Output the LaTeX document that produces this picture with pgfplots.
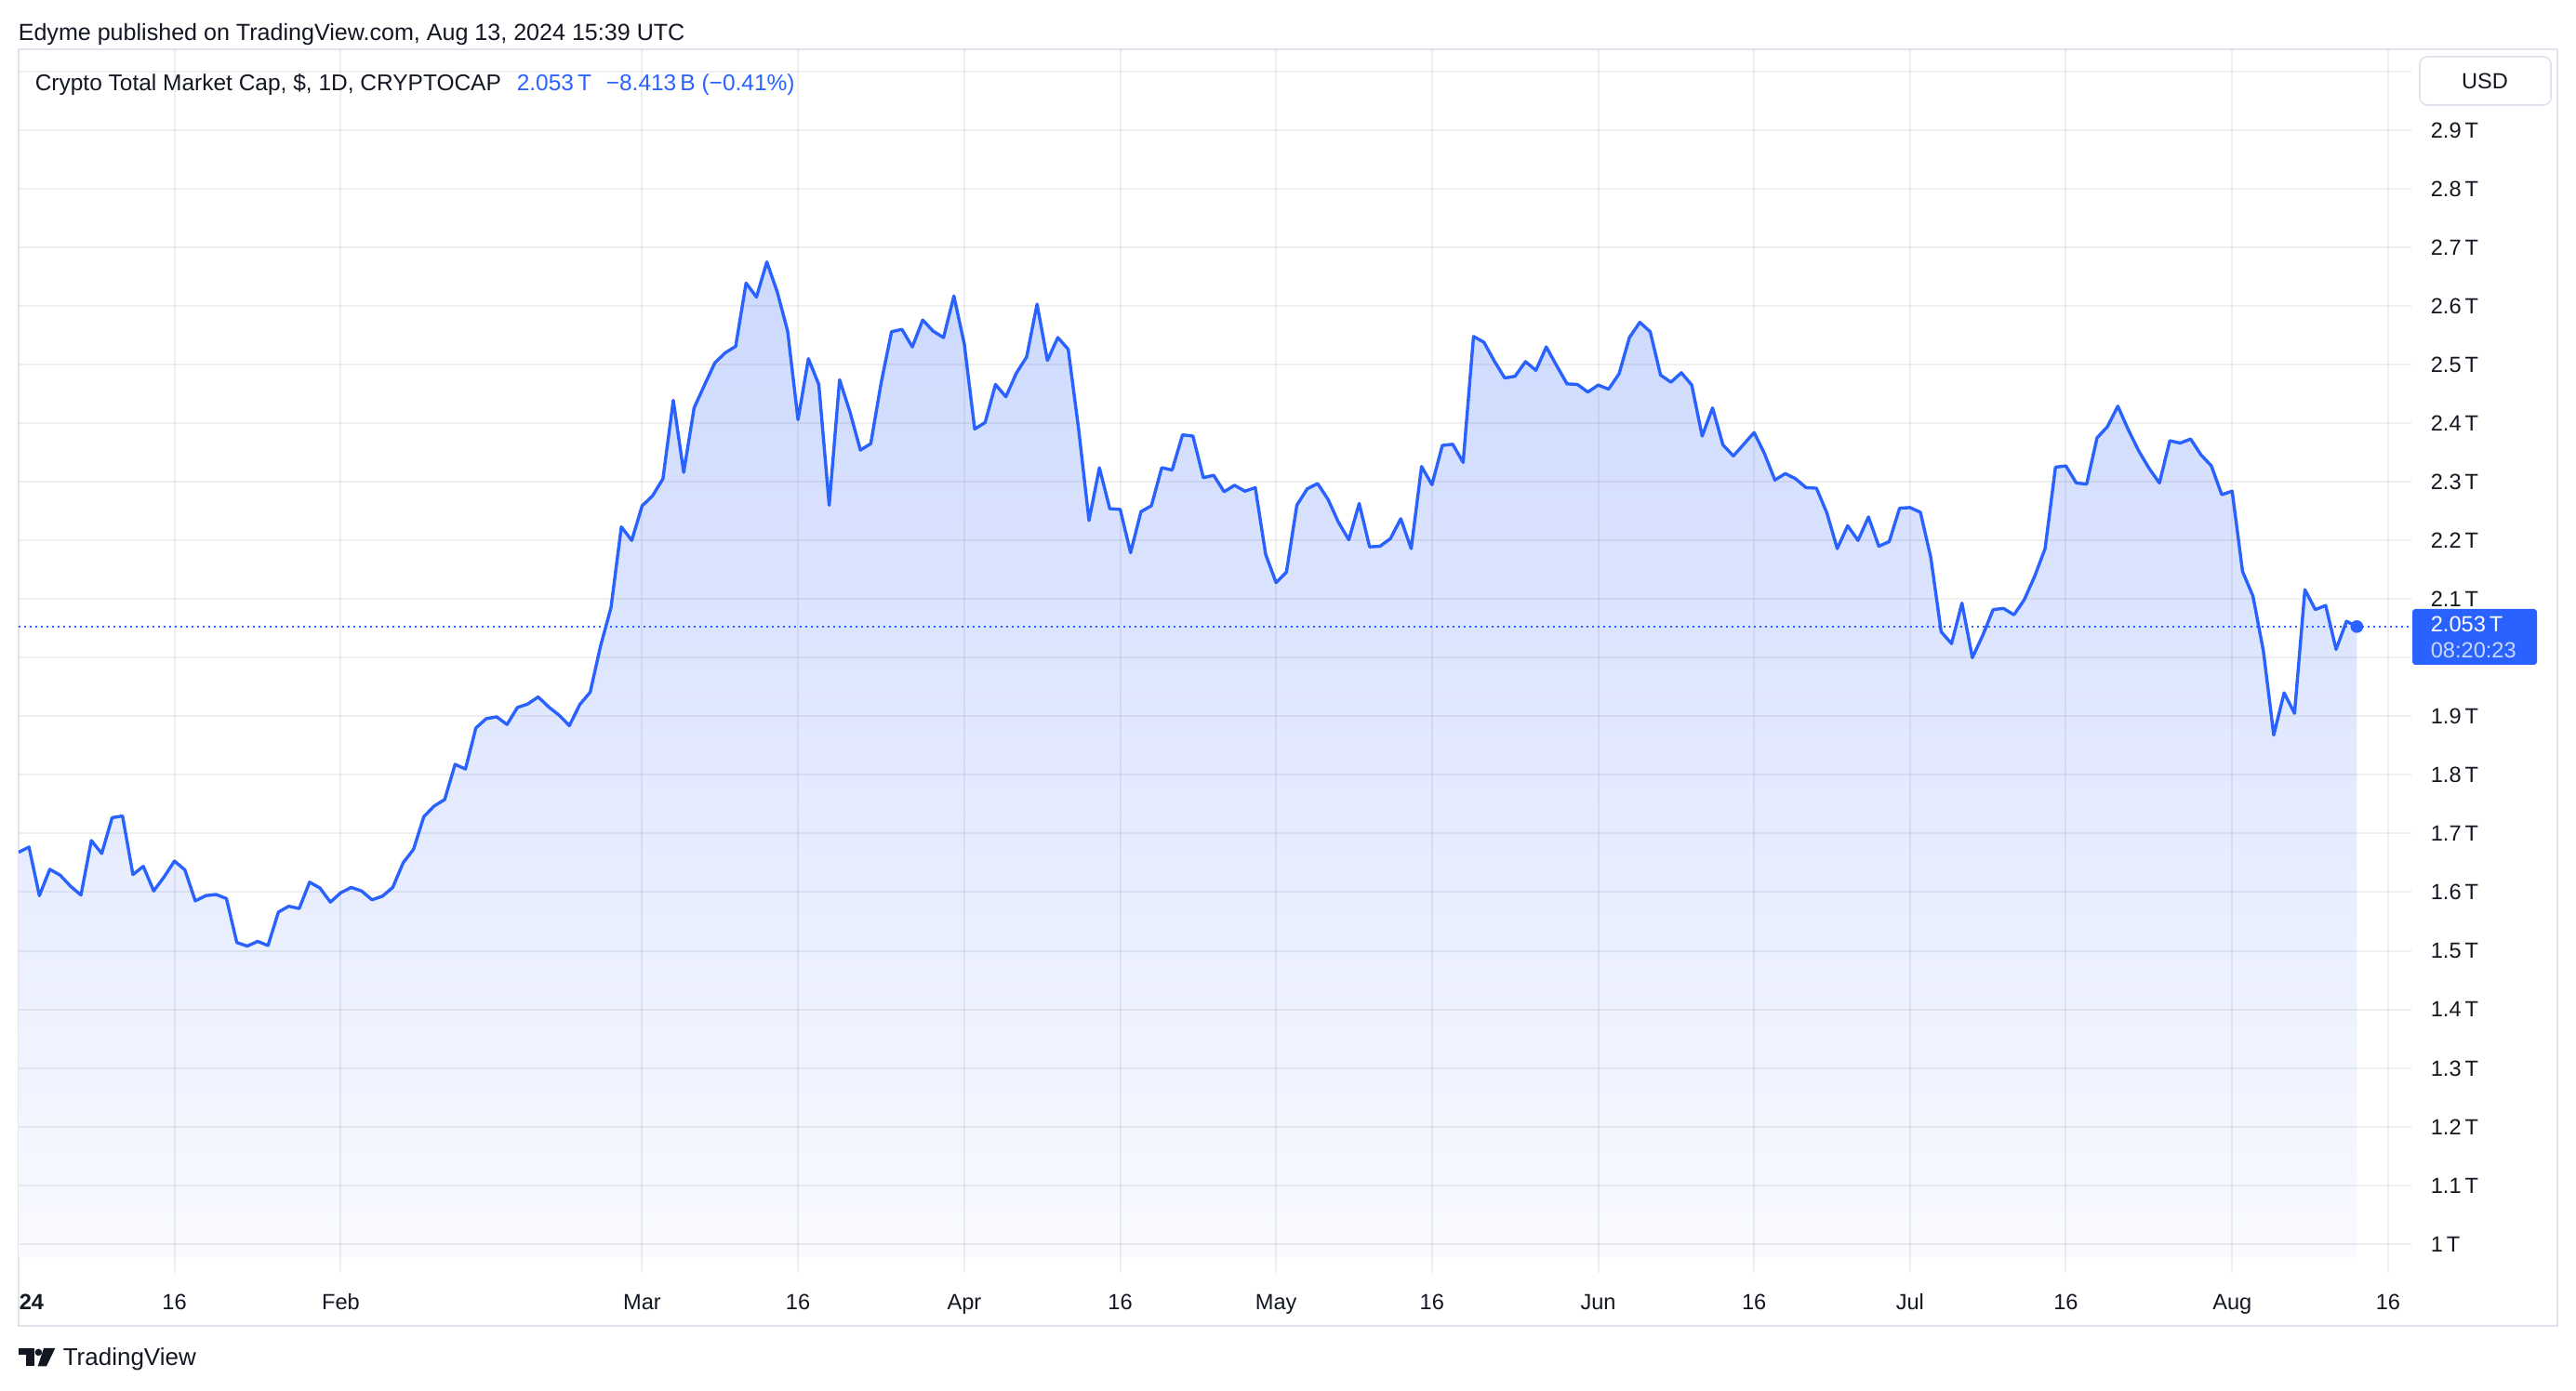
\documentclass[border=0pt]{standalone}
\usepackage{fontspec}
\setmainfont{Liberation Sans}
\usepackage{pgfplots}
\pgfplotsset{compat=1.18}
\usepackage{pgfplotstable}
\definecolor{tvblue}{RGB}{41,98,255}
\definecolor{tvtext}{RGB}{19,23,34}
\definecolor{tvframe}{RGB}{224,227,235}
\definecolor{tvgrid}{RGB}{42,46,57}
\definecolor{filltop}{RGB}{204,217,254}
\definecolor{fillbot}{RGB}{249,250,255}
\newcommand{\tlfont}{\fontsize{5.9pt}{7pt}\selectfont}

\pgfplotstableread{
d v
0 1.668
1 1.677
2 1.594
3 1.639
4 1.629
5 1.610
6 1.595
7 1.688
8 1.666
9 1.727
10 1.730
11 1.630
12 1.644
13 1.602
14 1.626
15 1.653
16 1.638
17 1.585
18 1.594
19 1.596
20 1.589
21 1.514
22 1.508
23 1.516
24 1.509
25 1.566
26 1.576
27 1.572
28 1.617
29 1.607
30 1.583
31 1.599
32 1.608
33 1.602
34 1.587
35 1.593
36 1.608
37 1.650
38 1.673
39 1.729
40 1.747
41 1.758
42 1.818
43 1.810
44 1.880
45 1.896
46 1.899
47 1.886
48 1.915
49 1.921
50 1.933
51 1.916
52 1.902
53 1.884
54 1.920
55 1.941
56 2.020
57 2.085
58 2.223
59 2.200
60 2.259
61 2.276
62 2.305
63 2.439
64 2.316
65 2.426
66 2.465
67 2.503
68 2.520
69 2.531
70 2.639
71 2.615
72 2.675
73 2.624
74 2.557
75 2.406
76 2.510
77 2.466
78 2.260
79 2.474
80 2.419
81 2.354
82 2.365
83 2.469
84 2.556
85 2.560
86 2.530
87 2.576
88 2.557
89 2.546
90 2.617
91 2.535
92 2.390
93 2.401
94 2.466
95 2.445
96 2.485
97 2.513
98 2.603
99 2.507
100 2.546
101 2.526
102 2.390
103 2.234
104 2.324
105 2.254
106 2.253
107 2.179
108 2.249
109 2.259
110 2.324
111 2.320
112 2.380
113 2.378
114 2.307
115 2.311
116 2.283
117 2.294
118 2.284
119 2.290
120 2.176
121 2.128
122 2.146
123 2.260
124 2.288
125 2.297
126 2.270
127 2.231
128 2.201
129 2.263
130 2.189
131 2.190
132 2.203
133 2.237
134 2.186
135 2.326
136 2.295
137 2.362
138 2.364
139 2.333
140 2.548
141 2.538
142 2.506
143 2.477
144 2.480
145 2.505
146 2.490
147 2.530
148 2.498
149 2.467
150 2.466
151 2.453
152 2.465
153 2.458
154 2.484
155 2.546
156 2.572
157 2.556
158 2.482
159 2.470
160 2.486
161 2.465
162 2.378
163 2.426
164 2.363
165 2.344
166 2.364
167 2.384
168 2.348
169 2.303
170 2.314
171 2.305
172 2.290
173 2.289
174 2.247
175 2.186
176 2.225
177 2.200
178 2.240
179 2.190
180 2.198
181 2.255
182 2.256
183 2.248
184 2.171
185 2.044
186 2.024
187 2.093
188 2.000
189 2.038
190 2.082
191 2.084
192 2.073
193 2.099
194 2.139
195 2.186
196 2.325
197 2.327
198 2.298
199 2.296
200 2.375
201 2.394
202 2.429
203 2.389
204 2.353
205 2.323
206 2.298
207 2.370
208 2.366
209 2.373
210 2.346
211 2.327
212 2.278
213 2.284
214 2.147
215 2.105
216 2.012
217 1.868
218 1.940
219 1.905
220 2.116
221 2.082
222 2.089
223 2.014
224 2.062
225 2.053
}\mcap

\begin{document}
\begin{tikzpicture}
% outer frame
\draw[tvframe, line width=0.5pt] (5pt,360.75pt) rectangle (687.5pt,17.6pt);
\begin{axis}[
  at={(5pt,31.75pt)}, anchor=south west,
  scale only axis, width=643.25pt, height=329pt,
  xmin=0, xmax=230.25, ymin=0.9505, ymax=3.0378,
  axis on top,
  axis line style={draw=none},
  tick style={draw=none},
  major tick length=0pt,
  xtick={15,31,60,75,91,106,121,136,152,167,182,197,213,228},
  xticklabels={16,Feb,Mar,16,Apr,16,May,16,Jun,16,Jul,16,Aug,16},
  ytick={1,1.1,1.2,1.3,1.4,1.5,1.6,1.7,1.8,1.9,2.0,2.1,2.2,2.3,2.4,2.5,2.6,2.7,2.8,2.9,3.0},
  yticklabels={1\,T,1.1\,T,1.2\,T,1.3\,T,1.4\,T,1.5\,T,1.6\,T,1.7\,T,1.8\,T,1.9\,T,{},2.1\,T,2.2\,T,2.3\,T,2.4\,T,2.5\,T,2.6\,T,2.7\,T,2.8\,T,2.9\,T,{}},
  yticklabel pos=right,
  /pgf/number format/assume math mode=true,
  grid=major,
  major grid style={draw=tvgrid, draw opacity=0.075, line width=0.5pt},
  ticklabel style={font=\tlfont, text=tvtext, inner sep=0pt},
  xticklabel style={anchor=base, yshift=-9.83pt},
  yticklabel style={anchor=base west, xshift=5pt, yshift=-2.1pt},
]
% gradient area under the line, closed down to 0.977 T
\addplot[draw=none, shade, shading=axis, top color=filltop, bottom color=fillbot, middle color=filltop!50!fillbot, forget plot] table[x=d,y=v]{\mcap} -- (axis cs:225,0.977) -- (axis cs:0,0.977) -- cycle;
\addplot[draw=tvblue, line width=0.5pt, dash pattern=on 0.45pt off 1.05pt] coordinates {(0,2.053) (230.25,2.053)};
\addplot[draw=tvblue, line width=0.85pt, line join=round, mark=none] table[x=d,y=v]{\mcap};
\addplot[only marks, mark=*, mark size=1.5pt, tvblue] coordinates {(225,2.053)};
\end{axis}
% header and legend
\node[anchor=base west, inner sep=0pt, font=\fontsize{6.27pt}{7pt}\selectfont, text=tvtext] at (4.75pt,363.2pt) {Edyme published on TradingView.com, Aug 13, 2024 15:39 UTC};
\node[anchor=base west, inner sep=0pt, font=\fontsize{6.12pt}{7pt}\selectfont, text=tvtext] at (9.25pt,349.7pt) {Crypto Total Market Cap, \$, 1D, CRYPTOCAP};
\node[anchor=base west, inner sep=0pt, font=\fontsize{6.12pt}{7pt}\selectfont, text=tvblue] at (138.75pt,349.7pt) {2.053\,T};
\node[anchor=base west, inner sep=0pt, font=\fontsize{6.12pt}{7pt}\selectfont, text=tvblue] at (162.75pt,349.7pt) {−8.413\,B (−0.41\%)};
% USD box
\draw[tvframe, line width=0.4pt, fill=white, rounded corners=2pt] (650.5pt,358.75pt) rectangle (685.75pt,345.75pt);
\node[anchor=center, inner sep=0pt, font=\tlfont, text=tvtext] at (668pt,352.25pt) {USD};
% price label box
\fill[tvblue, rounded corners=0.8pt] (648.5pt,210.25pt) rectangle (682pt,195.25pt);
\node[anchor=base west, inner sep=0pt, font=\tlfont, text=white] at (653.25pt,204pt) {2.053\,T};
\node[anchor=base west, inner sep=0pt, font=\tlfont, text=white!75!tvblue] at (653.25pt,197.1pt) {08:20:23};
% year label
\node[anchor=base west, inner sep=0pt, font=\tlfont\bfseries, text=tvtext] at (5pt,21.925pt) {24};
% TradingView logo
\fill[tvtext] (5pt,11.5pt) rectangle (9.175pt,9.675pt);
\fill[tvtext] (6.925pt,11.5pt) rectangle (9.175pt,6.675pt);
\fill[tvtext] (10.35pt,10.4pt) circle (0.95pt);
\fill[tvtext] (11.75pt,11.5pt) -- (14.825pt,11.5pt) -- (12.5pt,6.675pt) -- (10.175pt,6.675pt) -- cycle;
\node[anchor=base west, inner sep=0pt, font=\fontsize{6.5pt}{7pt}\selectfont, text=tvtext] at (16.75pt,6.75pt) {TradingView};
\pgfresetboundingbox
\path[use as bounding box] (0,0) rectangle (692.5pt,374pt);
\end{tikzpicture}
\end{document}
